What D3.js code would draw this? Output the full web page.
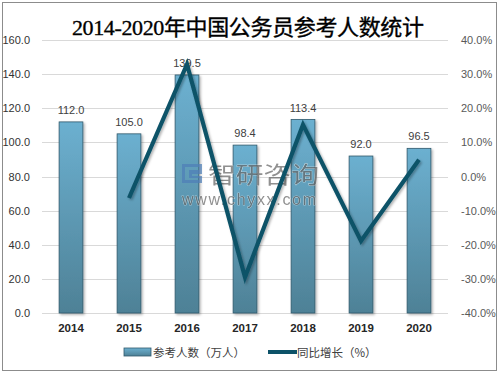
<!DOCTYPE html>
<html>
<head>
<meta charset="utf-8">
<script src="https://cdn.jsdelivr.net/npm/d3@7"></script>
<style>
  body { margin: 0; background: #fff; font-family: "Liberation Sans", "Noto Sans CJK SC", sans-serif; }
</style>
</head>
<body>
<script>
const years = ["2014", "2015", "2016", "2017", "2018", "2019", "2020"];
const examinees = [112.0, 105.0, 139.5, 98.4, 113.4, 92.0, 96.5];
const growth = [null, -6.3, 32.9, -29.5, 15.2, -18.9, 4.9];
const leftTicks = [0, 20, 40, 60, 80, 100, 120, 140, 160];
const rightTicks = [-40, -30, -20, -10, 0, 10, 20, 30, 40];

const w = 499, h = 374;
const plotL = 42, plotR = 448, plotT = 40, plotB = 313;
const sansFont = "'Liberation Sans', 'Noto Sans CJK SC', sans-serif";
const cjkFont = "'Noto Sans CJK SC', sans-serif";

const svg = d3.select("body").append("svg")
  .attr("width", w).attr("height", h);

const defs = svg.append("defs");
const grad = defs.append("linearGradient")
  .attr("id", "barGrad").attr("x1", 0).attr("y1", 0).attr("x2", 0).attr("y2", 1);
grad.append("stop").attr("offset", "0%").attr("stop-color", "#6cb0d0");
grad.append("stop").attr("offset", "100%").attr("stop-color", "#4e8196");
const shadow = defs.append("filter").attr("id", "sh")
  .attr("x", "-30%").attr("y", "-10%").attr("width", "160%").attr("height", "130%");
shadow.append("feDropShadow").attr("dx", 1.5).attr("dy", 1.5)
  .attr("stdDeviation", 1.2).attr("flood-color", "#000").attr("flood-opacity", 0.3);

svg.append("rect")
  .attr("x", 2.5).attr("y", 2.5).attr("width", 494).attr("height", 368)
  .attr("fill", "#fff").attr("stroke", "#8c8c8c").attr("stroke-width", 1);

const x = d3.scaleBand().domain(years).range([plotL, plotR]).paddingInner(0.59).paddingOuter(0.295);
const y = d3.scaleLinear().domain([0, 160]).range([plotB, plotT]);
const y2 = d3.scaleLinear().domain([-40, 40]).range([plotB, plotT]);

// grid
svg.append("g").selectAll("line")
  .data(leftTicks)
  .join("line")
  .attr("x1", plotL).attr("x2", plotR)
  .attr("y1", d => Math.round(y(d)) + 0.5).attr("y2", d => Math.round(y(d)) + 0.5)
  .attr("stroke", "#d9d9d9");

// left axis
const yAxis = d3.axisLeft(y).tickValues(leftTicks).tickFormat(d3.format(".1f")).tickSize(0).tickPadding(12);
const ga = svg.append("g").attr("transform", "translate(" + plotL + ",0)").call(yAxis);
ga.select(".domain").remove();
ga.selectAll("text").attr("font-size", 11).attr("fill", "#333").style("font-family", sansFont);

// right axis
const y2Axis = d3.axisRight(y2).tickValues(rightTicks).tickFormat(d => d.toFixed(1) + "%").tickSize(0).tickPadding(13);
const gb = svg.append("g").attr("transform", "translate(" + plotR + ",0)").call(y2Axis);
gb.select(".domain").remove();
gb.selectAll("text").attr("font-size", 11).attr("fill", "#595959").style("font-family", sansFont);

// x axis labels
const xAxis = d3.axisBottom(x).tickSize(0).tickPadding(11);
const gx = svg.append("g").attr("transform", "translate(0," + plotB + ")").call(xAxis);
gx.select(".domain").remove();
gx.selectAll("text").attr("font-size", 11.5).attr("font-weight", "bold").attr("fill", "#262626")
  .style("font-family", sansFont);

// bars
svg.append("g").selectAll("rect")
  .data(examinees)
  .join("rect")
  .attr("x", (d, i) => x(years[i]))
  .attr("y", d => y(d))
  .attr("width", x.bandwidth())
  .attr("height", d => plotB - y(d))
  .attr("fill", "url(#barGrad)")
  .attr("stroke", "#30596b")
  .attr("stroke-width", 0.8)
  .attr("filter", "url(#sh)");

svg.append("g").selectAll("text")
  .data(examinees)
  .join("text")
  .attr("x", (d, i) => x(years[i]) + x.bandwidth() / 2)
  .attr("y", d => y(d) - 8)
  .attr("text-anchor", "middle")
  .attr("font-size", 11)
  .attr("fill", "#404040")
  .style("font-family", sansFont)
  .text(d => d.toFixed(1));

// watermark
const wm = svg.append("g").attr("opacity", 0.72);
wm.append("path")
  .attr("d", "M182,164 h20 v10 h-10 v2 h10 v7 h-20 z M185,167 v13 h14 v-2 h-10 v-8 h10 v-3 z")
  .attr("fill", "#4f7fb8").attr("fill-rule", "evenodd");
wm.append("text").attr("x", 208).attr("y", 183)
  .attr("font-size", 23).attr("fill", "#666")
  .attr("stroke", "#fff").attr("stroke-width", 0.6).attr("paint-order", "stroke")
  .attr("textLength", 111).attr("lengthAdjust", "spacingAndGlyphs")
  .style("font-family", cjkFont)
  .text("智研咨询");
wm.append("text").attr("x", 182).attr("y", 205)
  .attr("font-size", 16).attr("fill", "#666")
  .attr("stroke", "#fff").attr("stroke-width", 0.6).attr("paint-order", "stroke")
  .attr("textLength", 134)
  .style("font-family", sansFont)
  .text("www.chyxx.com");

// line
const line = d3.line()
  .defined(d => d != null)
  .x((d, i) => x(years[i]) + x.bandwidth() / 2)
  .y(d => y2(d));
svg.append("path")
  .datum(growth)
  .attr("d", line)
  .attr("fill", "none")
  .attr("stroke", "#0d5268")
  .attr("stroke-width", 4.2)
  .attr("stroke-linejoin", "miter")
  .attr("filter", "url(#sh)");

// title
svg.append("text")
  .attr("x", 248).attr("y", 35)
  .attr("text-anchor", "middle")
  .attr("font-size", 22)
  .attr("fill", "#000")
  .attr("stroke", "#000").attr("stroke-width", 0.35)
  .attr("textLength", 352)
  .style("font-family", "'Liberation Serif', 'Noto Sans CJK SC', serif")
  .text("2014-2020年中国公务员参考人数统计");

// legend
const lg = svg.append("g");
lg.append("rect").attr("x", 124).attr("y", 348).attr("width", 27).attr("height", 8)
  .attr("fill", "url(#barGrad)").attr("stroke", "#30596b").attr("stroke-width", 0.8);
lg.append("text").attr("x", 153).attr("y", 357).attr("font-size", 11.5).attr("fill", "#404040")
  .style("font-family", cjkFont)
  .text("参考人数（万人）");
lg.append("line").attr("x1", 268).attr("x2", 297).attr("y1", 352).attr("y2", 352)
  .attr("stroke", "#0d5268").attr("stroke-width", 4);
lg.append("text").attr("x", 297).attr("y", 357).attr("font-size", 11.5).attr("fill", "#404040")
  .style("font-family", cjkFont)
  .text("同比增长（%）");
</script>
</body>
</html>
